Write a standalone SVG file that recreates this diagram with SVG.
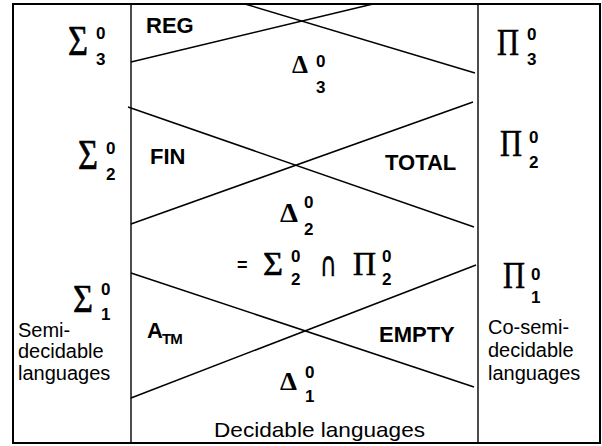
<svg xmlns="http://www.w3.org/2000/svg" width="602" height="446" viewBox="0 0 602 446">
  <style>
    .frame { fill: none; stroke: #000; stroke-width: 2; }
    .rule { stroke: #000; stroke-width: 1.4; }
    .diag { stroke: #000; stroke-width: 1.5; fill: none; }
    .sym { font-family: "Liberation Serif", "Times New Roman", serif; fill: #000; stroke: #000; stroke-width: 0.6; }
    .tri { font-family: "Liberation Serif", "Times New Roman", serif; font-weight: bold; fill: #000; }
    .idx { font-family: "Liberation Sans", Arial, sans-serif; font-weight: bold; font-size: 17px; fill: #000; }
    .lab { font-family: "Liberation Sans", Arial, sans-serif; font-weight: bold; font-size: 22px; fill: #000; }
    .txt { font-family: "Liberation Sans", Arial, sans-serif; font-size: 20px; fill: #000; }
  </style>

  <!-- outer frame and the two column dividers -->
  <g id="frame">
    <rect class="frame" x="13" y="4" width="587" height="439"/>
    <line class="rule" x1="131" y1="4" x2="131" y2="443"/>
    <line class="rule" x1="478" y1="4" x2="478" y2="443"/>
  </g>

  <!-- crossing boundaries between the levels -->
  <g id="connectors">
    <line class="diag" x1="131" y1="62" x2="373" y2="4"/>
    <line class="diag" x1="245" y1="4" x2="475" y2="73"/>
    <line class="diag" x1="128" y1="107" x2="474" y2="227"/>
    <line class="diag" x1="131" y1="224" x2="473" y2="102"/>
    <line class="diag" x1="131" y1="273" x2="474" y2="387"/>
    <line class="diag" x1="131" y1="398" x2="476" y2="265"/>
  </g>

  <!-- left column: Sigma classes -->
  <g id="sigma3">
    <text class="sym" x="68" y="55" style="font-size:42px" textLength="20" lengthAdjust="spacingAndGlyphs">Σ</text>
    <text class="idx" x="96" y="39">0</text>
    <text class="idx" x="96" y="65">3</text>
  </g>
  <g id="sigma2">
    <text class="sym" x="78" y="169" style="font-size:42px" textLength="20" lengthAdjust="spacingAndGlyphs">Σ</text>
    <text class="idx" x="106" y="154">0</text>
    <text class="idx" x="106" y="180">2</text>
  </g>
  <g id="sigma1">
    <text class="sym" x="73" y="312" style="font-size:40px" textLength="20" lengthAdjust="spacingAndGlyphs">Σ</text>
    <text class="idx" x="101" y="295">0</text>
    <text class="idx" x="101" y="320">1</text>
  </g>
  <g id="semidecidable">
    <text class="txt" x="18" y="337">Semi-</text>
    <text class="txt" x="18" y="358">decidable</text>
    <text class="txt" x="18" y="380">languages</text>
  </g>

  <!-- right column: Pi classes -->
  <g id="pi3">
    <text class="sym" x="497" y="55" style="font-size:38px" textLength="22" lengthAdjust="spacingAndGlyphs">Π</text>
    <text class="idx" x="527" y="40">0</text>
    <text class="idx" x="527" y="65">3</text>
  </g>
  <g id="pi2">
    <text class="sym" x="500" y="156" style="font-size:38px" textLength="22" lengthAdjust="spacingAndGlyphs">Π</text>
    <text class="idx" x="529" y="143">0</text>
    <text class="idx" x="529" y="168">2</text>
  </g>
  <g id="pi1">
    <text class="sym" x="503" y="288" style="font-size:38px" textLength="22" lengthAdjust="spacingAndGlyphs">Π</text>
    <text class="idx" x="531" y="280">0</text>
    <text class="idx" x="531" y="303">1</text>
  </g>
  <g id="cosemidecidable">
    <text class="txt" x="488" y="334">Co-semi-</text>
    <text class="txt" x="488" y="357">decidable</text>
    <text class="txt" x="488" y="380">languages</text>
  </g>

  <!-- middle column: example languages and Delta classes -->
  <g id="reg"><text class="lab" x="146" y="33">REG</text></g>
  <g id="delta3">
    <text class="tri" x="292" y="73" style="font-size:26px" textLength="16" lengthAdjust="spacingAndGlyphs">Δ</text>
    <text class="idx" x="316" y="67">0</text>
    <text class="idx" x="316" y="93">3</text>
  </g>
  <g id="fin"><text class="lab" x="150" y="164">FIN</text></g>
  <g id="total"><text class="lab" x="385" y="170">TOTAL</text></g>
  <g id="delta2">
    <text class="tri" x="280" y="222" style="font-size:28px" textLength="18" lengthAdjust="spacingAndGlyphs">Δ</text>
    <text class="idx" x="304" y="208">0</text>
    <text class="idx" x="304" y="235">2</text>
  </g>
  <g id="intersection">
    <text class="lab" x="237" y="271" style="font-size:18px">=</text>
    <text class="sym" x="263" y="275" style="font-size:34px" textLength="20" lengthAdjust="spacingAndGlyphs">Σ</text>
    <text class="idx" x="291" y="262">0</text>
    <text class="idx" x="291" y="285">2</text>
    <text x="320" y="276" style="font-family:'DejaVu Sans',sans-serif;font-size:34px;stroke:#000;stroke-width:0.4" textLength="17" lengthAdjust="spacingAndGlyphs">∩</text>
    <text class="sym" x="353" y="275" style="font-size:33px" textLength="23" lengthAdjust="spacingAndGlyphs">Π</text>
    <text class="idx" x="382" y="262">0</text>
    <text class="idx" x="382" y="285">2</text>
  </g>
  <g id="atm">
    <text class="lab" x="147" y="338">A</text>
    <text class="lab" x="162" y="344" style="font-size:15px;letter-spacing:-1px">TM</text>
  </g>
  <g id="empty"><text class="lab" x="379" y="342">EMPTY</text></g>
  <g id="delta1">
    <text class="tri" x="280" y="390" style="font-size:25px" textLength="17" lengthAdjust="spacingAndGlyphs">Δ</text>
    <text class="idx" x="305" y="378">0</text>
    <text class="idx" x="305" y="402">1</text>
  </g>
  <g id="decidable">
    <text class="txt" x="214" y="437" style="font-size:21px" textLength="211" lengthAdjust="spacingAndGlyphs">Decidable languages</text>
  </g>
</svg>
